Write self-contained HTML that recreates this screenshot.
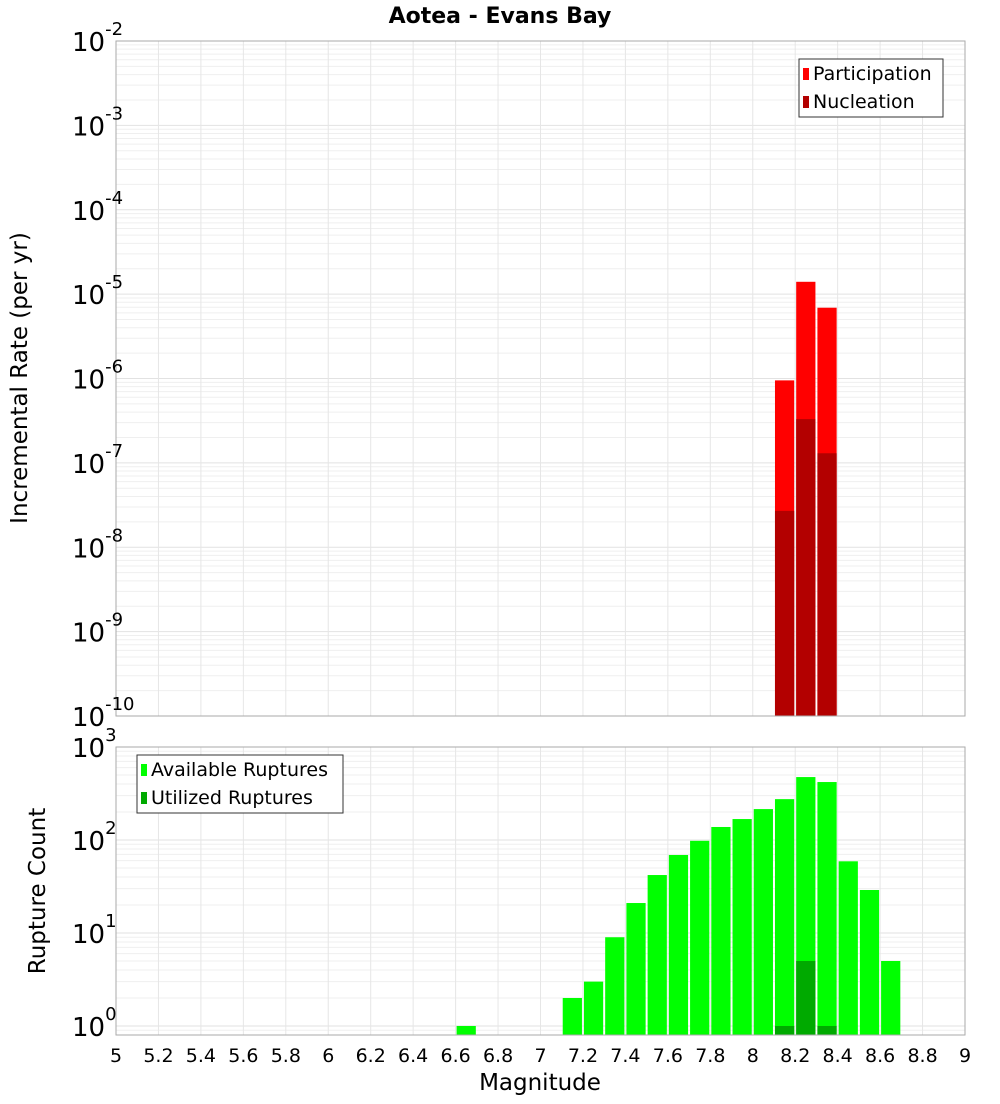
<!DOCTYPE html>
<html><head><meta charset="utf-8"><style>
body{margin:0;background:#fff;font-family:"DejaVu Sans","Liberation Sans",sans-serif}
svg text{font-family:"DejaVu Sans","Liberation Sans",sans-serif}
</style></head><body>
<svg id="c" width="1000" height="1100" xmlns="http://www.w3.org/2000/svg">
<text x="500" y="23" text-anchor="middle" font-size="22" font-weight="bold">Aotea - Evans Bay</text>
<text transform="translate(27,378) rotate(-90)" text-anchor="middle" font-size="23">Incremental Rate (per yr)</text>
<text transform="translate(45,891) rotate(-90)" text-anchor="middle" font-size="23">Rupture Count</text>
<text x="540" y="1090" text-anchor="middle" font-size="23">Magnitude</text>
</svg>
<script>
const bins=[8.15,8.25,8.35];
const participation=[9.5e-7,1.4e-5,6.9e-6];
const nucleation=[2.7e-8,3.3e-7,1.3e-7];
const availBins=[6.65,7.15,7.25,7.35,7.45,7.55,7.65,7.75,7.85,7.95,8.05,8.15,8.25,8.35,8.45,8.55,8.65];
const available=[1,2,3,9,21,42,69,98,138,168,215,275,475,420,59,29,5];
const utilBins=[8.15,8.25,8.35];
const utilized=[1,5,1];
const xTicks=["5","5.2","5.4","5.6","5.8","6","6.2","6.4","6.6","6.8","7","7.2","7.4","7.6","7.8","8","8.2","8.4","8.6","8.8","9"];
const topExp=[-2,-3,-4,-5,-6,-7,-8,-9,-10];
const botExp=[3,2,1,0];

const svg=document.getElementById('c');const NS='http://www.w3.org/2000/svg';
function mk(t,a,p){const e=document.createElementNS(NS,t);for(const k in a)e.setAttribute(k,a[k]);(p||svg).appendChild(e);return e;}
const X0=116,X1=965;
const x=m=>X0+(m-5)/4*(X1-X0);
const binW=(X1-X0)*0.1/4;
const T={top:41,bot:716,hi:-2,lo:-10};
const B={top:747,bot:1035,hi:3,lo:-0.097};
const y=(P,v)=>P.top+(P.hi-Math.log10(v))/(P.hi-P.lo)*(P.bot-P.top);
function grid(P,name){
  const g=mk('g',{});
  for(let e=Math.floor(P.lo);e<P.hi;e++)for(let k=1;k<10;k++){const v=k*Math.pow(10,e);const l=Math.log10(v);if(l<P.lo||l>P.hi)continue;const yy=y(P,v);
    mk('line',{x1:X0,x2:X1,y1:yy,y2:yy,stroke:k==1?'#e2e2e2':'#efefef','stroke-width':1},g);}
  for(let i=0;i<=20;i++){const xx=x(5+i*0.2);mk('line',{x1:xx,x2:xx,y1:P.top,y2:P.bot,stroke:'#e6e6e6'},g);}
}
function bars(P,bs,vs,col,name){
  bs.forEach((m,i)=>{const yy=y(P,vs[i]);const r=mk('rect',{x:x(m-0.05)+1,width:binW-2,y:yy,height:P.bot-yy,fill:col});
    });
}
grid(T,'top');grid(B,'bottom');
bars(T,bins,participation,'#ff0000','participation');
bars(T,bins,nucleation,'#b30000','nucleation');
bars(B,availBins,available,'#00ff00','available');
bars(B,utilBins,utilized,'#00aa00','utilized');
[T,B].forEach((P,i)=>{const r=mk('rect',{x:X0,y:P.top,width:X1-X0,height:P.bot-P.top,fill:'none',stroke:'#aaa'});});
function ylab(P,exps,name){exps.forEach(e=>{let yy=y(P,Math.pow(10,e));if(e==P.lo)yy=P.bot;
  const t=mk('text',{x:72,y:yy+10,'font-size':26});
  t.textContent='10';const s=mk('tspan',{dy:-16,'font-size':18},t);s.textContent=String(e);});}
ylab(T,topExp,'top-y');ylab(B,botExp,'bottom-y');
xTicks.forEach((s,i)=>{const t=mk('text',{x:x(+s),y:1062,'text-anchor':'middle','font-size':19});t.textContent=s;});
function legend(lx,ly,w,items,name){const g=mk('g',{});
  mk('rect',{x:lx,y:ly,width:w,height:58,fill:'#fff',stroke:'#333'},g);
  items.forEach((it,i)=>{mk('rect',{x:lx+4,y:ly+9+i*28,width:6,height:12,fill:it[1]},g);const t=mk('text',{x:lx+14,y:ly+21+i*28,'font-size':19},g);t.textContent=it[0];});}
legend(799,59,144,[['Participation','#ff0000'],['Nucleation','#b30000']],'top-legend');
legend(137,755,206,[['Available Ruptures','#00ff00'],['Utilized Ruptures','#00aa00']],'bottom-legend');
</script>
</body></html>
